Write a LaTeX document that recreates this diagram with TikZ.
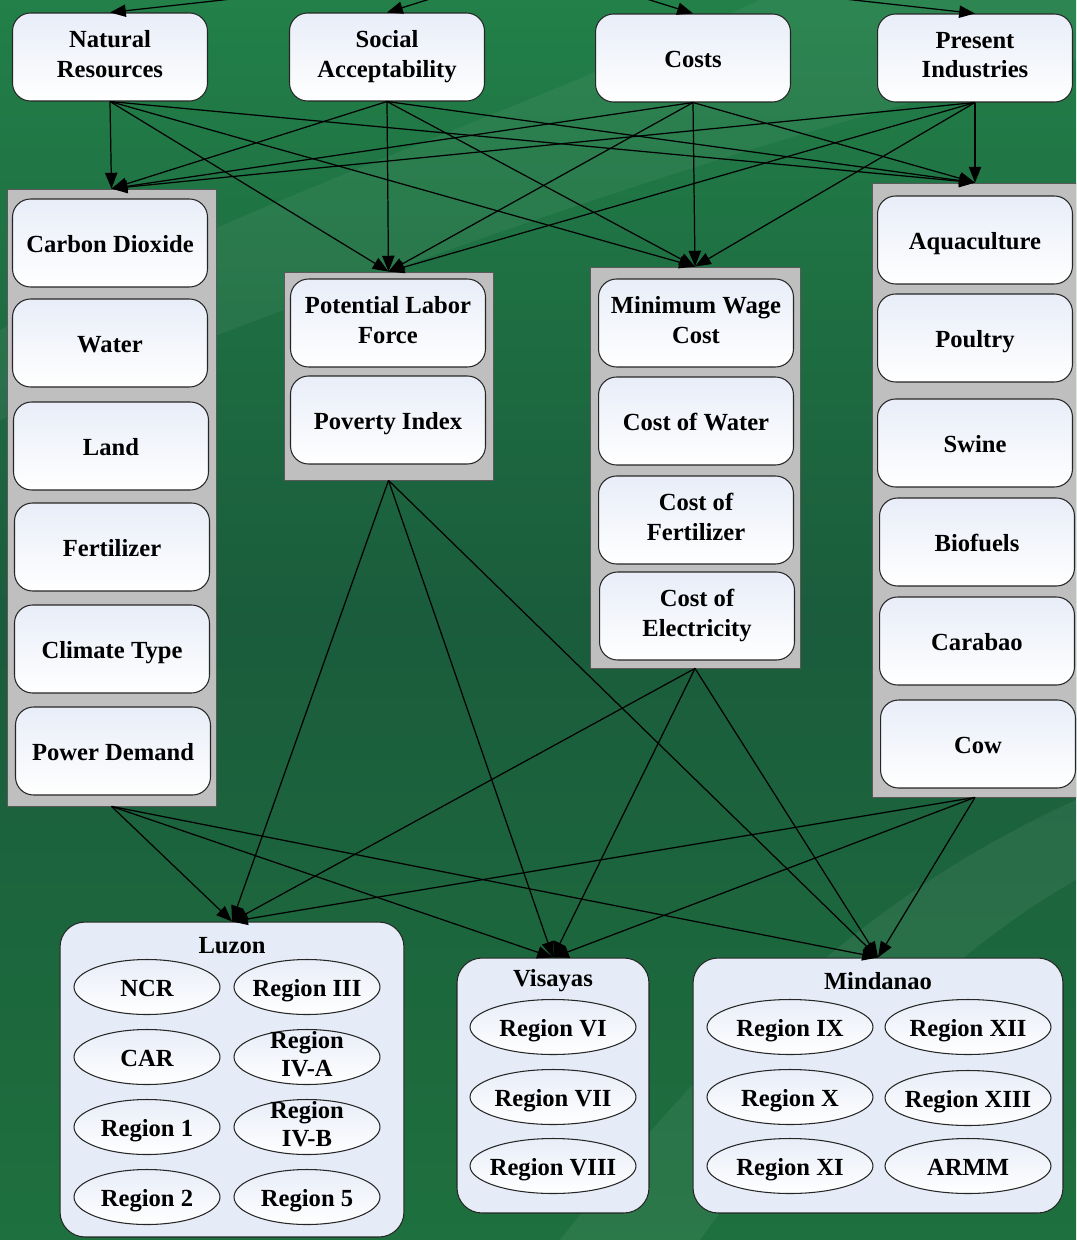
\documentclass[tikz,border=0pt]{standalone}
\usepackage{fontspec}
\setmainfont{Liberation Serif}
\usetikzlibrary{arrows.meta,shapes.geometric}
\definecolor{bgtop}{RGB}{34,128,72}
\definecolor{bgmid}{RGB}{26,92,60}
\definecolor{bglow}{RGB}{30,112,62}
\definecolor{islandfill}{RGB}{229,236,247}
\definecolor{boxtop}{RGB}{232,237,248}
\newcommand{\tstrut}{\rule{0pt}{14pt}}
\newcommand{\bstrut}{\rule[-3.5pt]{0pt}{0pt}}

\begin{document}
\begin{tikzpicture}[x=0.02cm, y=-0.02cm,
  crit/.style={draw=black!85, line width=0.6pt, rounded corners=0.36cm,
    top color=boxtop, bottom color=white, minimum width=3.9cm,
    minimum height=1.76cm, align=center,
    execute at begin node=\tstrut, execute at end node=\bstrut,
    font=\bfseries\fontsize{14}{17}\selectfont},
  grp/.style={draw=black!65, fill=gray!50, line width=0.5pt, inner sep=0pt},
  isl/.style={draw=black!85, fill=islandfill, line width=0.6pt,
    rounded corners=0.5cm, inner sep=0pt},
  isltitle/.style={font=\bfseries\fontsize{14}{17}\selectfont},
  reg/.style={ellipse, draw=black!85, line width=0.6pt, top color=boxtop,
    bottom color=white, minimum width=2.92cm, minimum height=1.1cm,
    inner xsep=-4pt, inner ysep=-8pt, align=center,
    execute at begin node=\tstrut, execute at end node=\bstrut,
    font=\bfseries\fontsize{14}{16}\selectfont},
  arr/.style={line width=0.7pt, -{Triangle[length=9pt,width=7pt]}}]
\clip (0,0) rectangle (1076,1240);
\shade[top color=bgtop, bottom color=bglow, middle color=bgmid] (0,0) rectangle (1076,1240);
\fill[white, opacity=0.05] (0,330) .. controls (250,200) and (500,120) .. (760,0) -- (1076,0) -- (1076,60) .. controls (700,150) and (300,300) .. (0,420) -- cycle;
\fill[white, opacity=0.06] (560,1240) .. controls (750,1000) and (900,880) .. (1076,800) -- (1076,880) .. controls (950,950) and (800,1100) .. (700,1240) -- cycle;

\coordinate (goal) at (538,-35);

\node[crit] (nr) at (110,57) {Natural\\Resources};
\node[crit] (sa) at (387,57) {Social\\Acceptability};
\node[crit] (co) at (693,58) {Costs};
\node[crit] (pi) at (975,58) {Present\\Industries};

\node[grp, minimum width=4.18cm, minimum height=12.34cm] (gnat) at (111.5,497.5) {};
\node[grp, minimum width=4.18cm, minimum height=4.16cm] (gsoc) at (388.5,376) {};
\node[grp, minimum width=4.2cm, minimum height=8.02cm] (gcost) at (695,467.5) {};
\node[grp, minimum width=4.12cm, minimum height=12.28cm] (gind) at (975,490) {};

\node[crit] (co2) at (110,243) {Carbon Dioxide};
\node[crit] (water) at (110,343) {Water};
\node[crit] (land) at (111,446) {Land};
\node[crit] (fert) at (112,547) {Fertilizer};
\node[crit] (clim) at (112,649) {Climate Type};
\node[crit] (power) at (113,751) {Power Demand};

\node[crit] (labor) at (388,323) {Potential Labor\\Force};
\node[crit] (pov) at (388,420) {Poverty Index};

\node[crit] (wage) at (696,323) {Minimum Wage\\Cost};
\node[crit] (cwater) at (696,421) {Cost of Water};
\node[crit] (cfert) at (696,520) {Cost of\\Fertilizer};
\node[crit] (celec) at (697,616) {Cost of\\Electricity};

\node[crit] (aqua) at (975,240) {Aquaculture};
\node[crit] (poul) at (975,338) {Poultry};
\node[crit] (swine) at (975,443) {Swine};
\node[crit] (bio) at (977,542) {Biofuels};
\node[crit] (cara) at (977,641) {Carabao};
\node[crit] (cow) at (978,744) {Cow};

\node[isl, minimum width=6.88cm, minimum height=6.3cm] (luzon) at (232,1079.5) {};
\node[isl, minimum width=3.84cm, minimum height=5.1cm] (visayas) at (553,1085.5) {};
\node[isl, minimum width=7.4cm, minimum height=5.1cm] (mindanao) at (878,1085.5) {};

\node[isltitle] (luzont) at (232,946) {Luzon};
\node[isltitle] (visayast) at (553,981) {Visayas};
\node[isltitle] (mindanaot) at (878,981) {Mindanao};

\node[reg] (ncr) at (147,987) {NCR};
\node[reg] (r3) at (307,987) {Region III};
\node[reg] (car) at (147,1057) {CAR};
\node[reg] (r4a) at (307,1057) {Region\\IV-A};
\node[reg] (r1) at (147,1127) {Region 1};
\node[reg] (r4b) at (307,1127) {Region\\IV-B};
\node[reg] (r2) at (147,1197) {Region 2};
\node[reg] (r5) at (307,1197) {Region 5};

\node[reg, minimum width=3.32cm] (r6) at (553,1027) {Region VI};
\node[reg, minimum width=3.32cm] (r7) at (553,1097) {Region VII};
\node[reg, minimum width=3.32cm] (r8) at (553,1166) {Region VIII};

\node[reg, minimum width=3.32cm] (r9) at (790,1027) {Region IX};
\node[reg, minimum width=3.32cm] (r12) at (968,1027) {Region XII};
\node[reg, minimum width=3.32cm] (r10) at (790,1097) {Region X};
\node[reg, minimum width=3.32cm] (r13) at (968,1098) {Region XIII};
\node[reg, minimum width=3.32cm] (r11) at (790,1166) {Region XI};
\node[reg, minimum width=3.32cm] (armm) at (968,1166) {ARMM};

\draw[arr] (goal) -- (nr.north);
\draw[arr] (goal) -- (sa.north);
\draw[arr] (goal) -- (co.north);
\draw[arr] (goal) -- (pi.north);

\draw[arr] (nr.south) -- (gnat.north);
\draw[arr] (nr.south) -- (gsoc.north);
\draw[arr] (nr.south) -- (gcost.north);
\draw[arr] (nr.south) -- (gind.north);
\draw[arr] (sa.south) -- (gnat.north);
\draw[arr] (sa.south) -- (gsoc.north);
\draw[arr] (sa.south) -- (gcost.north);
\draw[arr] (sa.south) -- (gind.north);
\draw[arr] (co.south) -- (gnat.north);
\draw[arr] (co.south) -- (gsoc.north);
\draw[arr] (co.south) -- (gcost.north);
\draw[arr] (co.south) -- (gind.north);
\draw[arr] (pi.south) -- (gnat.north);
\draw[arr] (pi.south) -- (gsoc.north);
\draw[arr] (pi.south) -- (gcost.north);
\draw[arr] (pi.south) -- (gind.north);

\draw[arr] (gnat.south) -- (luzon.north);
\draw[arr] (gnat.south) -- (visayas.north);
\draw[arr] (gnat.south) -- (mindanao.north);
\draw[arr] (gsoc.south) -- (luzon.north);
\draw[arr] (gsoc.south) -- (visayas.north);
\draw[arr] (gsoc.south) -- (mindanao.north);
\draw[arr] (gcost.south) -- (luzon.north);
\draw[arr] (gcost.south) -- (visayas.north);
\draw[arr] (gcost.south) -- (mindanao.north);
\draw[arr] (gind.south) -- (luzon.north);
\draw[arr] (gind.south) -- (visayas.north);
\draw[arr] (gind.south) -- (mindanao.north);
\end{tikzpicture}
\end{document}
